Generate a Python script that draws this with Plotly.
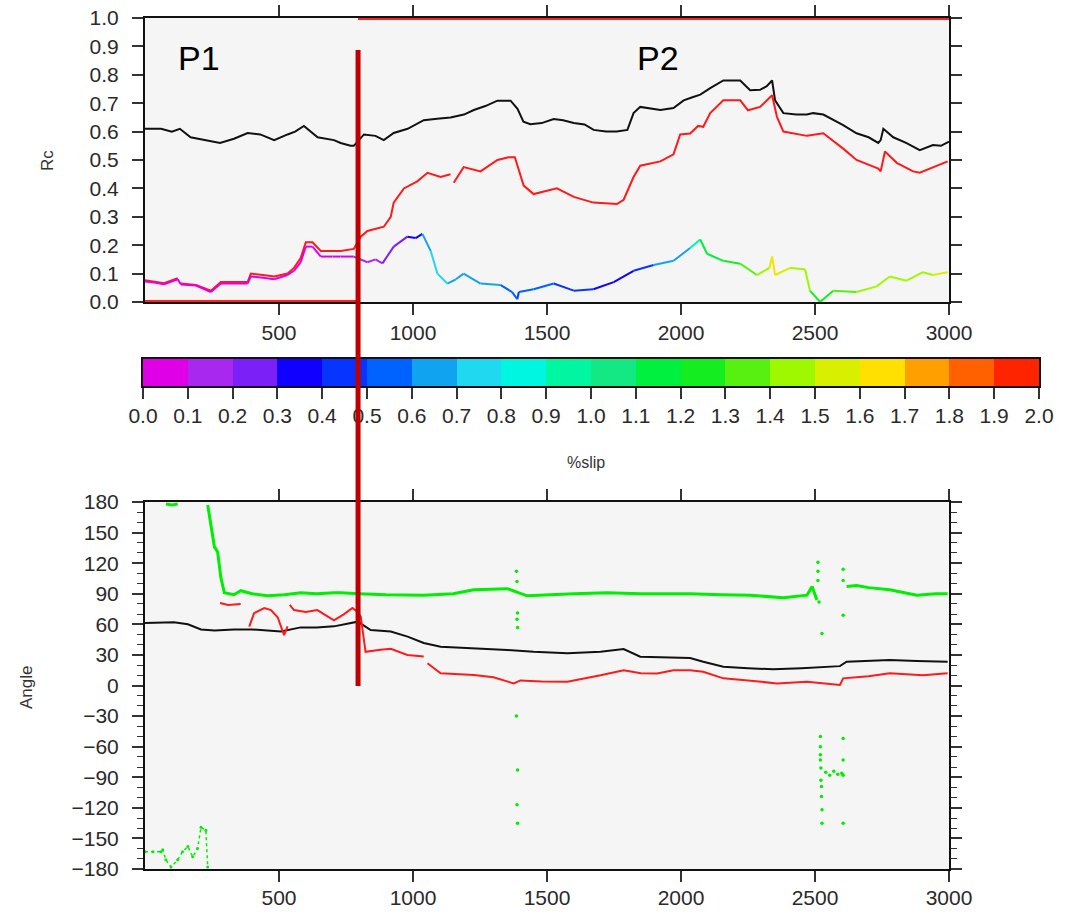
import plotly.graph_objects as go

# ---------------- data ----------------
# Top panel: Rc
RC_BLACK_X = [0, 60, 100, 130, 170, 220, 280, 332, 383, 430, 482, 532, 560, 593, 620, 644, 705, 730, 767, 779,
              817, 860, 891, 928, 980, 1040, 1090, 1140, 1190, 1227, 1270, 1315, 1364, 1390, 1412, 1438, 1480,
              1525, 1560, 1600, 1640, 1674, 1720, 1760, 1800, 1823, 1848, 1890, 1923, 1972, 2010, 2040, 2072,
              2109, 2158, 2221, 2258, 2295, 2320, 2340, 2351, 2382, 2430, 2470, 2493, 2531, 2570, 2605, 2655,
              2700, 2736, 2745, 2755, 2792, 2840, 2891, 2940, 2970, 3000]
RC_BLACK_Y = [0.61, 0.61, 0.60, 0.61, 0.58, 0.57, 0.56, 0.575, 0.595, 0.59, 0.57, 0.59, 0.60, 0.62, 0.60, 0.58,
              0.57, 0.56, 0.55, 0.55, 0.59, 0.585, 0.57, 0.595, 0.61, 0.64, 0.645, 0.65, 0.66, 0.676, 0.69,
              0.709, 0.709, 0.68, 0.635, 0.626, 0.63, 0.644, 0.64, 0.63, 0.625, 0.606, 0.60, 0.60, 0.606, 0.665,
              0.687, 0.68, 0.676, 0.683, 0.71, 0.72, 0.73, 0.753, 0.78, 0.78, 0.746, 0.747, 0.76, 0.78, 0.71,
              0.665, 0.66, 0.66, 0.665, 0.66, 0.64, 0.623, 0.594, 0.58, 0.56, 0.57, 0.61, 0.58, 0.56, 0.535,
              0.553, 0.55, 0.565]

RC_RED_X = [0, 40, 71, 122, 128, 134, 190, 246, 283, 383, 395, 440, 482, 532, 556, 581, 600, 625, 656, 700, 730,
            779, 805, 830, 891, 917, 928, 966, 1016, 1054, 1103, 1140, 1146, 1152, 1189, 1252, 1315, 1357, 1380,
            1413, 1450, 1537, 1600, 1673, 1761, 1786, 1823, 1848, 1923, 1972, 1997, 2034, 2064, 2083, 2109,
            2158, 2221, 2250, 2295, 2340, 2358, 2382, 2470, 2531, 2605, 2655, 2736, 2745, 2761, 2805, 2866,
            2891, 2940, 2995]
RC_RED_Y = [0.077, 0.07, 0.066, 0.084, None, 0.065, 0.06, 0.04, 0.07, 0.07, 0.10, 0.095, 0.09, 0.10, 0.12,
            0.155, 0.21, 0.21, 0.18, 0.18, 0.18, 0.187, 0.23, 0.25, 0.265, 0.30, 0.35, 0.40, 0.425, 0.455,
            0.44, 0.45, None, 0.42, 0.475, 0.46, 0.50, 0.51, 0.51, 0.41, 0.38, 0.40, 0.37, 0.35, 0.345, 0.36,
            0.44, 0.48, 0.495, 0.52, 0.59, 0.593, 0.62, 0.617, 0.665, 0.71, 0.71, 0.675, 0.687, 0.728, 0.652,
            0.60, 0.585, 0.594, 0.54, 0.50, 0.47, 0.46, 0.53, 0.49, 0.46, 0.455, 0.475, 0.495]

RC_SLIP_X = [0, 40, 71, 122, 134, 190, 246, 283, 383, 395, 440, 482, 532, 556, 581, 600, 625, 656, 700, 730,
             779, 830, 860, 886, 928, 979, 1010, 1035, 1066, 1091, 1128, 1160, 1189, 1252, 1326, 1370, 1389,
             1395, 1450, 1525, 1600, 1673, 1749, 1823, 1898, 1972, 2034, 2072, 2097, 2158, 2221, 2283, 2330,
             2340, 2351, 2407, 2463, 2481, 2519, 2568, 2655, 2730, 2779, 2842, 2903, 2940, 2995]
RC_SLIP_Y = [0.072, 0.068, 0.062, 0.08, 0.062, 0.058, 0.035, 0.065, 0.065, 0.09, 0.085, 0.08, 0.095, 0.11,
             0.14, 0.195, 0.195, 0.16, 0.16, 0.16, 0.16, 0.14, 0.15, 0.136, 0.195, 0.23, 0.225, 0.24, 0.18,
             0.10, 0.065, 0.08, 0.10, 0.065, 0.06, 0.035, 0.01, 0.035, 0.045, 0.065, 0.04, 0.045, 0.07, 0.11,
             0.13, 0.145, 0.19, 0.22, 0.17, 0.145, 0.135, 0.095, 0.12, 0.16, 0.095, 0.12, 0.115, 0.04, 0.0,
             0.04, 0.035, 0.055, 0.09, 0.075, 0.105, 0.095, 0.105]
SLIP_PCT = [0.05, 0.05, 0.05, 0.05, 0.05, 0.05, 0.05, 0.05, 0.05, 0.05, 0.05, 0.05, 0.05, 0.05, 0.05, 0.05,
            0.05, 0.05, 0.05, 0.05, 0.15, 0.15, 0.15, 0.25, 0.25, 0.35, 0.35, 0.65, 0.75, 0.7, 0.65, 0.65,
            0.65, 0.6, 0.55, 0.55, 0.45, 0.55, 0.5, 0.45, 0.4, 0.35, 0.35, 0.45, 0.6, 0.65, 0.95, 1.1, 1.15,
            1.25, 1.35, 1.45, 1.55, 1.6, 1.55, 1.45, 1.45, 1.25, 1.2, 1.35, 1.4, 1.45, 1.4, 1.45, 1.45, 1.5,
            1.45]

# Period flags drawn on the Rc frame
RC_FLAG_LOW_X = [0, 795]
RC_FLAG_LOW_Y = [0.0, 0.0]
RC_FLAG_HIGH_X = [795, 3000]
RC_FLAG_HIGH_Y = [1.0, 1.0]

# P1 / P2 boundary
BOUNDARY_X = 795
BOUNDARY_RC_TOP = 0.887
BOUNDARY_ANGLE_BOTTOM = -0.5

# Bottom panel: Angle
ANG_BLACK_X = [0, 108, 160, 209, 260, 332, 400, 507, 581, 640, 705, 730, 779, 794, 842, 917, 980, 1040, 1103,
               1200, 1352, 1450, 1576, 1700, 1786, 1848, 1950, 2034, 2083, 2158, 2250, 2344, 2450, 2593, 2618,
               2700, 2779, 2880, 2995]
ANG_BLACK_Y = [61.3, 62, 60, 55, 54, 55, 55, 53, 57, 57, 58, 59.3, 62, 62.6, 54.4, 53, 48, 41.7, 38, 37, 34.8,
               33, 31.6, 33, 35.8, 28.3, 27.5, 27, 23.3, 18.4, 17, 15.9, 17, 19, 23.3, 24, 25, 24, 23.3]

ANG_RED_X = [280, 310, 357, 372, 389, 407, 445, 470, 495, 519, 532, 536, 540, 556, 600, 643, 705, 743, 774, 794,
             805, 823, 879, 917, 979, 1040, 1047, 1054, 1103, 1227, 1300, 1376, 1401, 1480, 1576, 1700, 1786,
             1850, 1911, 1972, 2034, 2083, 2158, 2250, 2358, 2470, 2593, 2605, 2700, 2779, 2903, 2995]
ANG_RED_Y = [81, 79, 80, None, 57.7, 71, 76, 74, 67, 49.5, 58, None, 79, 74, 72, 74, 64, 70, 76, 72, 67.5, 33,
             35, 36, 30, 28.5, None, 21.8, 12, 10.3, 8, 2, 5, 4, 3.7, 10, 15, 12, 11.7, 15, 15, 13.5, 7, 5, 2,
             3.7, 0.5, 7, 9, 12, 10, 12]

ANG_GREEN_LOW_X = [0, 30, 60, 66, 78, 97, 122, 140, 160, 178, 196, 209, 227, 234]
ANG_GREEN_LOW_Y = [-163, -163, -163, -161, -171, -178, -171, -163, -158, -168, -160, -139, -142, -178]

ANG_GREEN_HIGH_X = [78, 100, 122, 128, 234, 245, 259, 271, 283, 296, 332, 357, 400, 457, 520, 581, 640, 705, 730,
                    800, 900, 1040, 1150, 1227, 1352, 1426, 1500, 1600, 1724, 1850, 1972, 2034, 2150, 2258, 2382,
                    2470, 2489, 2507, 2560, 2618, 2655, 2700, 2779, 2880, 2950, 2995]
ANG_GREEN_HIGH_Y = [178, 177, 178, None, 177, 160, 136, 131, 106, 91, 89, 93, 90, 88, 89, 91, 90, 91, 91, 90, 89,
                    88.6, 90, 94, 95, 88, 89, 90, 91, 90, 90, 90, 89, 88.6, 86, 88.6, 97, 84, None, 97, 98, 96,
                    94, 88.6, 90, 90]

ANG_GREEN_DOTS_X = [1386, 1388, 1390, 1388, 1390, 1386, 1390, 1388, 1390, 2511, 2511, 2511, 2515, 2526, 2520,
                    2520, 2520, 2520, 2522, 2522, 2524, 2524, 2526, 2526, 2540, 2555, 2570, 2585, 2600, 2605,
                    2605, 2605, 2605, 2605, 2605, 2605]
ANG_GREEN_DOTS_Y = [112, 102, 71, 65, 57, -30, -83, -117, -135, 121, 112, 103, 82, 51, -50, -60, -68, -73, -81,
                    -93, -99, -109, -122, -135, -85, -88, -84, -87, -86, 114, 103, 69, -52, -73, -135, -88]

# Colour scale (%slip)
SLIP_TICKS = [0.0, 0.1, 0.2, 0.3, 0.4, 0.5, 0.6, 0.7, 0.8, 0.9, 1.0, 1.1, 1.2, 1.3, 1.4, 1.5, 1.6, 1.7, 1.8,
              1.9, 2.0]
SLIP_COLORS = ['#e000e8', '#a828f0', '#7c20f8', '#1000ff', '#0834ff', '#0062ff', '#10a4f0', '#20d8f0',
               '#00f6e0', '#00f6a0', '#14e884', '#00f040', '#14ee20', '#58f010', '#a0f800', '#d8f000',
               '#ffe000', '#ffa000', '#ff6000', '#ff2400']

for a, b in [(RC_BLACK_X, RC_BLACK_Y), (RC_RED_X, RC_RED_Y), (RC_SLIP_X, RC_SLIP_Y), (RC_SLIP_X, SLIP_PCT),
             (ANG_BLACK_X, ANG_BLACK_Y), (ANG_RED_X, ANG_RED_Y), (ANG_GREEN_LOW_X, ANG_GREEN_LOW_Y),
             (ANG_GREEN_HIGH_X, ANG_GREEN_HIGH_Y), (ANG_GREEN_DOTS_X, ANG_GREEN_DOTS_Y)]:
    assert len(a) == len(b), (len(a), len(b))

# ---------------- layout geometry ----------------
W, H = 1074, 915
def px_x(p): return p / W
def px_y(p): return 1 - p / H

X_DOM = [px_x(145), px_x(949)]
TOP_DOM = [px_y(302), px_y(18)]
CB_X_DOM = [px_x(143), px_x(1039)]
CB_DOM = [px_y(386), px_y(359)]
BOT_DOM = [px_y(869), px_y(502)]

GREEN = '#00ee00'
FONT = 'Liberation Sans'
TICKFONT = dict(family=FONT, size=21, color='#2a2a2a')

fig = go.Figure()

# ---- top panel ----
fig.add_trace(go.Scatter(x=RC_FLAG_LOW_X, y=RC_FLAG_LOW_Y, mode='lines',
                         line=dict(color='#ff2020', width=4), xaxis='x', yaxis='y', showlegend=False))
fig.add_trace(go.Scatter(x=RC_FLAG_HIGH_X, y=RC_FLAG_HIGH_Y, mode='lines',
                         line=dict(color='#ff2020', width=4), xaxis='x', yaxis='y', showlegend=False))
fig.add_trace(go.Scatter(x=RC_BLACK_X, y=RC_BLACK_Y, mode='lines', line=dict(color='#111111', width=2),
                         xaxis='x', yaxis='y', showlegend=False))
fig.add_trace(go.Scatter(x=RC_RED_X, y=RC_RED_Y, mode='lines', line=dict(color='#ff1a1a', width=2),
                         xaxis='x', yaxis='y', showlegend=False, connectgaps=False))

# slip-coloured line: one trace per colour bin, segments from consecutive points
def slip_bin(v):
    return min(int(v / 0.1 + 1e-9), len(SLIP_COLORS) - 1)

seg = {}
for i in range(len(RC_SLIP_X) - 1):
    b = slip_bin(SLIP_PCT[i])
    xs, ys = seg.setdefault(b, ([], []))
    xs += [RC_SLIP_X[i], RC_SLIP_X[i + 1], None]
    ys += [RC_SLIP_Y[i], RC_SLIP_Y[i + 1], None]
for b, (xs, ys) in sorted(seg.items()):
    fig.add_trace(go.Scatter(x=xs, y=ys, mode='lines', line=dict(color=SLIP_COLORS[b], width=2),
                             xaxis='x', yaxis='y', showlegend=False))

# ---- colour bar (as heatmap on its own axes) ----
cb_mid = [(SLIP_TICKS[i] + SLIP_TICKS[i + 1]) / 2 for i in range(len(SLIP_TICKS) - 1)]
n = len(SLIP_COLORS)
cscale = []
for i, c in enumerate(SLIP_COLORS):
    cscale += [[i / n, c], [(i + 1) / n, c]]
fig.add_trace(go.Heatmap(x=SLIP_TICKS, y=[0, 1], z=[cb_mid], zmin=SLIP_TICKS[0], zmax=SLIP_TICKS[-1],
                         colorscale=cscale, showscale=False, xaxis='x3', yaxis='y3', hoverinfo='skip'))

# ---- bottom panel ----
fig.add_trace(go.Scatter(x=ANG_GREEN_LOW_X, y=ANG_GREEN_LOW_Y, mode='lines+markers',
                         line=dict(color=GREEN, width=1.5, dash='dot'), marker=dict(color=GREEN, size=3),
                         xaxis='x2', yaxis='y2', showlegend=False))
fig.add_trace(go.Scatter(x=ANG_GREEN_HIGH_X, y=ANG_GREEN_HIGH_Y, mode='lines', line=dict(color=GREEN, width=3),
                         xaxis='x2', yaxis='y2', showlegend=False))
fig.add_trace(go.Scatter(x=ANG_GREEN_DOTS_X, y=ANG_GREEN_DOTS_Y, mode='markers',
                         marker=dict(color=GREEN, size=3.5), xaxis='x2', yaxis='y2', showlegend=False))
fig.add_trace(go.Scatter(x=ANG_BLACK_X, y=ANG_BLACK_Y, mode='lines', line=dict(color='#111111', width=2),
                         xaxis='x2', yaxis='y2', showlegend=False))
fig.add_trace(go.Scatter(x=ANG_RED_X, y=ANG_RED_Y, mode='lines', line=dict(color='#ff1a1a', width=2),
                         xaxis='x2', yaxis='y2', showlegend=False))

axis_common = dict(showgrid=False, zeroline=False, showline=True, linecolor='#111111', linewidth=2,
                   mirror='ticks', ticks='outside', tickcolor='#333333', tickwidth=1.5, ticklen=11,
                   tickfont=TICKFONT, layer='below traces', automargin=False)
X_TICKS = [500, 1000, 1500, 2000, 2500, 3000]
RC_TICKS = [0.0, 0.1, 0.2, 0.3, 0.4, 0.5, 0.6, 0.7, 0.8, 0.9, 1.0]
ANG_TICKS = [-180, -150, -120, -90, -60, -30, 0, 30, 60, 90, 120, 150, 180]

fig.update_layout(
    template='none',
    width=W, height=H, margin=dict(l=0, r=0, t=0, b=0, pad=0, autoexpand=False),
    paper_bgcolor='white', plot_bgcolor='#f5f5f5',
    xaxis=dict(domain=X_DOM, anchor='y', range=[0, 3000], tickvals=X_TICKS, ticklabelstandoff=0, **axis_common),
    yaxis=dict(domain=TOP_DOM, anchor='x', range=[0, 1], tickvals=RC_TICKS,
               ticktext=[f'{v:.1f}' for v in RC_TICKS], ticklabelstandoff=9, **axis_common),
    xaxis2=dict(domain=X_DOM, anchor='y2', range=[0, 3000], tickvals=X_TICKS, ticklabelstandoff=-2, **axis_common),
    yaxis2=dict(domain=BOT_DOM, anchor='x2', range=[-180, 180], tickvals=ANG_TICKS,
                ticktext=[str(v).replace('-', '\u2212') for v in ANG_TICKS], ticklabelstandoff=9,
                minor=dict(dtick=10, tick0=0, ticks='outside', ticklen=6, tickcolor='#333333', tickwidth=1.2),
                **axis_common),
    xaxis3=dict(domain=CB_X_DOM, anchor='y3', range=[0, 2], tickvals=SLIP_TICKS,
                ticktext=[f'{v:.1f}' for v in SLIP_TICKS], showgrid=False, zeroline=False, showline=True,
                linecolor='#111111', linewidth=2, mirror=True, ticks='outside', tickcolor='#333333',
                tickwidth=1.5, ticklen=11, tickfont=TICKFONT, ticklabelstandoff=-1, automargin=False),
    yaxis3=dict(domain=CB_DOM, anchor='x3', range=[0, 1], showticklabels=False, ticks='', showgrid=False,
                zeroline=False, showline=True, linecolor='#111111', linewidth=2, mirror=True, automargin=False),
)

# axis titles and period labels
ann_common = dict(showarrow=False, xanchor='center', yanchor='middle')
fig.add_annotation(text='Rc', x=px_x(47), y=px_y(161), xref='paper', yref='paper', textangle=-90,
                   font=dict(family=FONT, size=17, color='#333333'), **ann_common)
fig.add_annotation(text='Angle', x=px_x(26), y=px_y(688), xref='paper', yref='paper', textangle=-90,
                   font=dict(family=FONT, size=17, color='#333333'), **ann_common)
fig.add_annotation(text='%slip', x=px_x(586), y=px_y(463), xref='paper', yref='paper',
                   font=dict(family=FONT, size=16, color='#333333'), **ann_common)
fig.add_annotation(text='P1', x=201, y=0.86, xref='x', yref='y',
                   font=dict(family=FONT, size=34, color='#000000'), **ann_common)
fig.add_annotation(text='P2', x=1915, y=0.86, xref='x', yref='y',
                   font=dict(family=FONT, size=34, color='#000000'), **ann_common)

# boundary between periods, spanning both panels
def to_paper(v, rng, dom):
    return dom[0] + (v - rng[0]) / (rng[1] - rng[0]) * (dom[1] - dom[0])

fig.add_shape(type='line', xref='x', yref='paper', x0=BOUNDARY_X, x1=BOUNDARY_X,
              y0=to_paper(BOUNDARY_ANGLE_BOTTOM, [-180, 180], BOT_DOM),
              y1=to_paper(BOUNDARY_RC_TOP, [0, 1], TOP_DOM),
              line=dict(color='#be0000', width=5), layer='above')

fig.write_html('out.html')
